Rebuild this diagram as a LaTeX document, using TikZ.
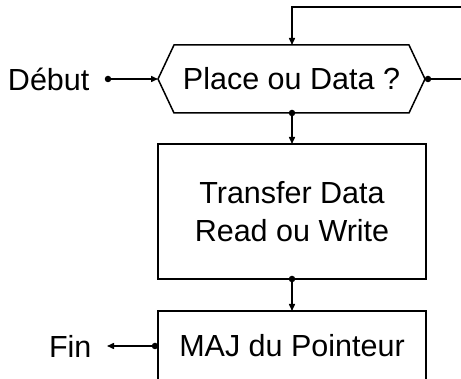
\documentclass[tikz,border=0pt]{standalone}
\usepackage{fontspec}
\setmainfont{Liberation Sans}
\usetikzlibrary{arrows.meta}
\begin{document}
\begin{tikzpicture}[x=1pt,y=-1pt,
  every node/.style={font=\fontsize{30.5}{38.5}\selectfont, inner sep=0pt, outer sep=0pt},
  line/.style={line width=1.5pt, draw=black},
  arr/.style={line, -{Triangle[length=7pt,width=6pt]}},
  dot/.style={circle, fill=black, minimum size=6.5pt, inner sep=0pt},
  box/.style={line, rectangle, align=center}]
\useasboundingbox (0,0) rectangle (461,379);
\begin{scope}
\clip (0,0) rectangle (461,379);

% decision hexagon
\node (hex) [minimum width=267pt, minimum height=68pt] at (291.5,79) {Place ou Data ?};
\draw[line] (hex.west) -- ([xshift=16pt]hex.north west) -- ([xshift=-16pt]hex.north east)
  -- (hex.east) -- ([xshift=-16pt]hex.south east) -- ([xshift=16pt]hex.south west) -- cycle;

% processing boxes
\node (xfer) [box, minimum width=268pt, minimum height=135pt] at (292,211.5) {Transfer Data\\Read ou Write};
\node (maj) [box, minimum width=268pt, minimum height=70pt] at (292,346) {MAJ du Pointeur};

% terminals
\node (debut) [anchor=west] at (8,79) {Début};
\node (fin) [anchor=west] at (49,346) {Fin};

% connector points
\coordinate (topR) at (461,7);
\coordinate (topL) at (292,7);
\coordinate (exitR) at (461,79);
\node (d1) [dot] at (108,79) {};
\node (d2) [dot] at ([xshift=3pt]hex.east) {};
\node (d3) [dot] at (hex.south -| xfer.north) {};
\node (d4) [dot] at (xfer.south) {};
\node (d5) [dot] at ([xshift=-3pt]maj.west) {};
\coordinate (finTip) at (107,346);

% connectors
\draw[arr] (topR) -- (topL) -- (hex.north -| topL);
\draw[arr] (d1.center) -- (hex.west);
\draw[line] (hex.east) -- (exitR);
\draw[arr] (d3.center) -- (xfer.north);
\draw[arr] (d4.center) -- (maj.north);
\draw[arr] (maj.west) -- (finTip);
\end{scope}
\end{tikzpicture}
\end{document}
